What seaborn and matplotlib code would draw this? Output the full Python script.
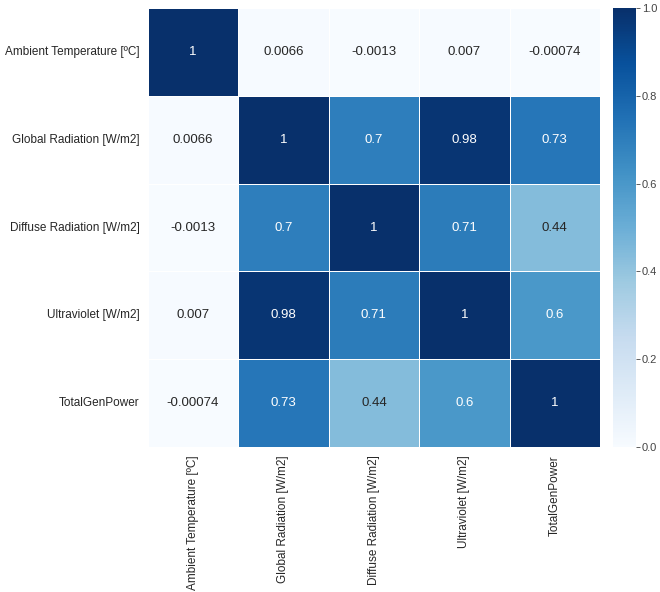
import numpy as np
import pandas as pd
import matplotlib
matplotlib.use("Agg")
import matplotlib.pyplot as plt
import seaborn as sns

# variable names and correlation values
labels = ["Ambient Temperature [ºC]", "Global Radiation [W/m2]",
          "Diffuse Radiation [W/m2]", "Ultraviolet [W/m2]", "TotalGenPower"]
row_temp = [1, 0.0066, -0.0013, 0.007, -0.00074]
row_global = [0.0066, 1, 0.7, 0.98, 0.73]
row_diffuse = [-0.0013, 0.7, 1, 0.71, 0.44]
row_uv = [0.007, 0.98, 0.71, 1, 0.6]
row_power = [-0.00074, 0.73, 0.44, 0.6, 1]

corr = pd.DataFrame([row_temp, row_global, row_diffuse, row_uv, row_power],
                    index=labels, columns=labels)

sns.set_style("white")
plt.rcParams["font.family"] = ["Liberation Sans", "DejaVu Sans"]

fig = plt.figure(figsize=(6.6, 5.92), dpi=100)
ax = fig.add_axes([0.224, 0.245, 0.685, 0.741])
cax = fig.add_axes([0.929, 0.245, 0.035, 0.741])

sns.heatmap(corr, ax=ax, cbar_ax=cax, cmap="Blues", vmin=0, vmax=1,
            annot=True, linewidths=0.5, linecolor="white",
            annot_kws={"fontsize": 9.5})

ax.tick_params(axis="both", labelsize=8.5, length=0, pad=6)
plt.setp(ax.get_xticklabels(), rotation=90)
plt.setp(ax.get_yticklabels(), rotation=0)
cax.tick_params(labelsize=8, length=3, width=0.6, pad=1, colors="#444444")
cax.yaxis.set_ticks([0, 0.2, 0.4, 0.6, 0.8, 1.0])
cax.set_yticklabels(["0.0", "0.2", "0.4", "0.6", "0.8", "1.0"])

fig.savefig("out.png", dpi=100)
